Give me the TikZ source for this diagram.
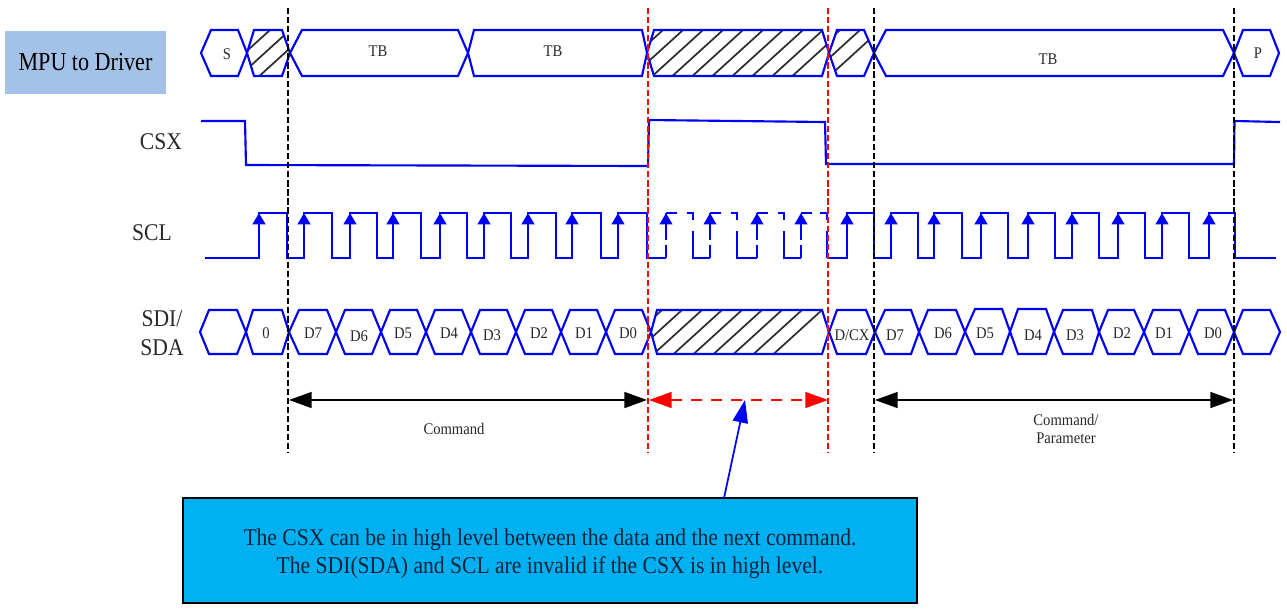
\documentclass[tikz,border=0pt]{standalone}
\usepackage{fontspec}
\setmainfont[FakeStretch=0.9]{Liberation Serif}
\newfontfamily\mpufont[FakeStretch=0.85]{Liberation Serif}
\usetikzlibrary{arrows.meta}
\definecolor{sigblue}{RGB}{0,0,245}
\definecolor{mpufill}{RGB}{164,194,232}
\definecolor{notefill}{RGB}{0,176,240}
\definecolor{inkgray}{RGB}{40,40,40}
\definecolor{noteink}{RGB}{5,35,60}
\tikzset{
  sig/.style={draw=sigblue,line width=1.6pt,line join=miter},
  sigthin/.style={draw=sigblue,line width=1.25pt,line join=miter},
  hatchline/.style={draw=gray!35!black,line width=1.3pt},
  guideblack/.style={draw=black,line width=1.8pt,dash pattern=on 4.7pt off 2.1pt},
  guidered/.style={draw=red,line width=1.8pt,dash pattern=on 4.7pt off 2.1pt},
  small/.style={font=\fontsize{12.2}{14}\selectfont,text=inkgray,inner sep=0pt},
  side/.style={font=\fontsize{18}{21.5}\selectfont,text=inkgray,inner sep=0pt,align=center},
  span/.style={line width=1.1pt,{Triangle[length=17pt,width=12pt]}-{Triangle[length=17pt,width=12pt]}},
  tick/.style={draw=sigblue,line width=1.6pt,-{Triangle[length=8.5pt,width=9.5pt]}},
  tickthin/.style={draw=sigblue,line width=1.25pt,-{Triangle[length=8.5pt,width=9.5pt]}},
}
% hexagon: left tip, top-left, top-right, right tip, top y, bottom y
\newcommand{\hexa}[6]{\draw[sig] (#1,{(#5+#6)/2})--(#2,#5)--(#3,#5)--(#4,{(#5+#6)/2})--(#3,#6)--(#2,#6)--cycle;}
% hatched hexagon: same, then first line x at top, number of lines
\newcommand{\hatchhexa}[8]{%
  \begin{scope}
    \clip (#1,{(#5+#6)/2})--(#2,#5)--(#3,#5)--(#4,{(#5+#6)/2})--(#3,#6)--(#2,#6)--cycle;
    \foreach \k in {0,...,#8}{\draw[hatchline] ({#7+20*\k},#5)--({#7+20*\k-1.1*(#6-#5)},#6);}
  \end{scope}
  \hexa{#1}{#2}{#3}{#4}{#5}{#6}}
% invalid clock pulse: rise, fall, next rise
\newcommand{\ghost}[3]{%
  \draw[sigthin] (#1,213)--(#1,218) (#1,213)--({#1+11},213);
  \draw[sigthin] ({#2-6},213)--(#2,213)--(#2,220) (#2,231)--(#2,258)--(#3,258);
  \draw[tickthin] (#3,240)--(#3,213);
  \draw[sigthin] (#3,258)--(#3,245);}
\begin{document}
\begin{tikzpicture}[x=0.75pt,y=-0.75pt]
\useasboundingbox (0,0) rectangle (1287,608);
% MPU box
\node[fill=mpufill,minimum width=120.75pt,minimum height=47.25pt,inner sep=0pt,font=\mpufont\fontsize{19.5}{22}\selectfont,text=black] (mpu) at (85.5,62.5) {MPU to Driver};
% top row
\hexa{201}{211}{238}{247}{30}{76}
\hatchhexa{247}{254}{282}{290}{30}{76}{270}{2}
\hexa{290}{302}{458}{468}{30}{76}
\hexa{468}{474}{642}{647}{30}{76}
\hatchhexa{647}{654}{822}{829}{30}{76}{663}{9}
\hatchhexa{829}{837}{864}{874}{30}{76}{840}{2}
\hexa{874}{886}{1223}{1234}{30}{76}
\hexa{1234}{1243}{1270}{1279}{30}{76}
\node[small] (ts) at (227,54) {S};
\node[small] (t1) at (378,51) {TB};
\node[small] (t2) at (553,51) {TB};
\node[small] (t3) at (1048,59) {TB};
\node[small] (tp) at (1258,53) {P};
% CSX
\draw[sig] (201,121)--(245,121)--(246,165)--(648,166)--(649,120)--(825,122)--(826,164)--(1234,164)--(1234.5,121)--(1280,122);
% SCL
\draw[sig] (205,258)--(259,258)--(259,213)--(287,213)--(287,258)--(304,258)--(304,213)--(332,213)--(332,258)--(350,258)--(350,213)--(377,213)--(377,258)--(393,258)--(393,213)--(421,213)--(421,258)--(440,258)--(440,213)--(467,213)--(467,258)--(484,258)--(484,213)--(511,213)--(511,258)--(528,258)--(528,213)--(556,213)--(556,258)--(572,258)--(572,213)--(601,213)--(601,258)--(618,258)--(618,213)--(647,213)--(647,258)--(666,258);
\draw[sigthin] (666,258)--(666,245);
\draw[tickthin] (666,240)--(666,213);
\ghost{666}{693}{710}
\ghost{710}{737}{757}
\ghost{757}{784}{801}
\draw[sigthin] (801,213)--(812,213) (820,213)--(827,213)--(827,220) (827,231)--(827,258);
\draw[sig] (827,258)--(847,258)--(847,213)--(874,213)--(874,258)--(891,258)--(891,213)--(918,213)--(918,258)--(934,258)--(934,213)--(962,213)--(962,258)--(981,258)--(981,213)--(1008,213)--(1008,258)--(1028,258)--(1028,213)--(1055,213)--(1055,258)--(1072,258)--(1072,213)--(1099,213)--(1099,258)--(1118,258)--(1118,213)--(1145,213)--(1145,258)--(1162,258)--(1162,213)--(1189,213)--(1189,258)--(1209,258)--(1209,213)--(1235,213)--(1235,258)--(1276,258);
\foreach \r in {259,304,350,393,440,484,528,572,618,847,891,934,981,1028,1072,1118,1162,1209}{\draw[tick] (\r,250)--(\r,213);}
% SDI row
\hexa{200}{209}{237}{246}{310}{354}
\hexa{246}{253}{282}{289}{310}{354}
\hexa{289}{299}{327}{336}{310}{354}
\hexa{336}{345}{372}{381}{310}{354}
\hexa{381}{390}{417}{426}{310}{354}
\hexa{426}{435}{462}{471}{310}{354}
\hexa{471}{480}{507}{516}{310}{354}
\hexa{516}{525}{552}{561}{310}{354}
\hexa{561}{570}{597}{606}{310}{354}
\hexa{606}{615}{642}{651}{310}{354}
\hatchhexa{651}{657}{822}{829}{310}{354}{662}{8}
\hexa{829}{837}{866}{875}{310}{354}
\hexa{875}{885}{911}{919}{310}{354}
\hexa{919}{928}{956}{965}{310}{354}
\hexa{965}{975}{1002}{1010}{309}{354}
\hexa{1010}{1018}{1046}{1054}{309}{354}
\hexa{1054}{1063}{1092}{1099}{310}{354}
\hexa{1099}{1108}{1134}{1144}{310}{354}
\hexa{1144}{1153}{1180}{1189}{310}{354}
\hexa{1189}{1198}{1225}{1234}{310}{354}
\hexa{1234}{1243}{1270}{1280}{310}{354}
\foreach \nm/\tx/\xx/\yy in {a0/0/266/333,d7/D7/313/333,d6/D6/359/336,d5/D5/403/333,d4/D4/449/333,d3/D3/492/335,d2/D2/539/333,d1/D1/584/333,d0/D0/628/333,dc/{D/CX}/852/335,e7/D7/895/335,e6/D6/943/333,e5/D5/985/333,e4/D4/1033/335,e3/D3/1075/335,e2/D2/1122/333,e1/D1/1164/333,e0/D0/1213/333}{\node[small] (\nm) at (\xx,\yy) {\tx};}
% side labels
\node[side] (csx) at (161,142) {CSX};
\node[side] (scl) at (152,233) {SCL};
\node[side] (sdi) at (162,333) {SDI/\\SDA};
% guides
\coordinate (g1t) at (288,8); \coordinate (g1b) at (288,453);
\coordinate (g2t) at (648,8); \coordinate (g2b) at (648,453);
\coordinate (g3t) at (828,8); \coordinate (g3b) at (828,453);
\coordinate (g4t) at (874,8); \coordinate (g4b) at (874,453);
\coordinate (g5t) at (1234,8); \coordinate (g5b) at (1234,453);
\draw[guideblack] (g1t)--(g1b);
\draw[guidered] (g2t)--(g2b);
\draw[guidered] (g3t)--(g3b);
\draw[guideblack] (g4t)--(g4b);
\draw[guideblack] (g5t)--(g5b);
% spans
\coordinate (s1a) at (289,400); \coordinate (s1b) at (647,400);
\coordinate (s2a) at (649,400); \coordinate (s2b) at (828,400);
\coordinate (s3a) at (875,400); \coordinate (s3b) at (1233,400);
\draw[span,draw=black,fill=black] (s1a)--(s1b);
\draw[span,draw=red,{Triangle[length=17pt,width=12pt,fill=red]}-{Triangle[length=17pt,width=12pt,fill=red]},dash pattern=on 8pt off 7pt] (s2a)--(s2b);
\draw[span,draw=black,fill=black] (s3a)--(s3b);
\node[small] (cmd) at (454,429) {Command};
\node[small,align=center,font=\fontsize{12.2}{14}\selectfont] (par) at (1066,429) {Command/\\Parameter};
% note
\node[draw=black,line width=0.9pt,fill=notefill,minimum width=550.5pt,minimum height=78.75pt,inner sep=0pt] (note) at (550,550.5) {};
\node[inner sep=0pt,align=center,font=\fontsize{18}{21}\selectfont,text=noteink] (notetext) at (550,553.5) {The CSX can be in high level between the data and the next command.\\The SDI(SDA) and SCL are invalid if the CSX is in high level.};
\coordinate (noteat) at (745,400);
\coordinate (notefrom) at (724,498);
\draw[draw=sigblue,line width=1.3pt,-{Triangle[length=17pt,width=11.5pt,fill=sigblue]}] (notefrom)--(noteat);
\end{tikzpicture}
\end{document}
